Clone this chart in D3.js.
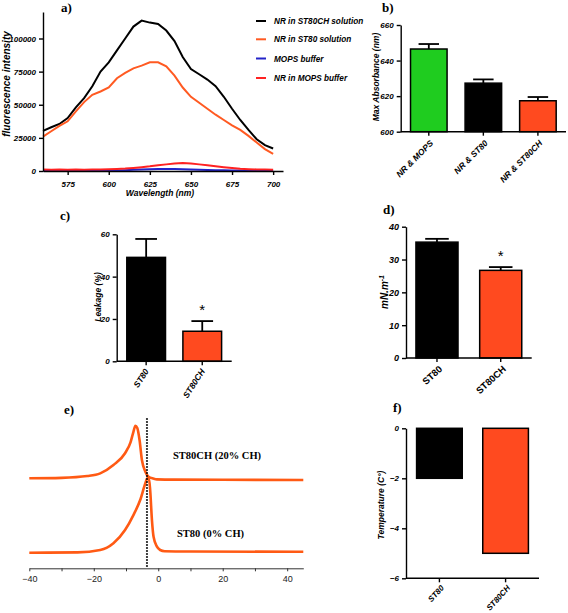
<!DOCTYPE html>
<html><head><meta charset="utf-8">
<script src="https://cdn.jsdelivr.net/npm/d3@7"></script>
<style>
body{margin:0;background:#fff;}
svg{display:block;}
.ax path,.ax line{stroke:#000;stroke-width:1.4;}
.ax text{font-family:"Liberation Sans",Arial,sans-serif;font-weight:bold;font-style:italic;fill:#000;}
.lbl{font-family:"Liberation Serif","Times New Roman",serif;font-weight:bold;font-size:13px;}
.ttl{font-family:"Liberation Sans",Arial,sans-serif;font-weight:bold;font-style:italic;fill:#000;}
</style></head><body>
<svg id="c" width="568" height="613"></svg>
<script>
// ---------- DATA ----------
const specWl = [560,565,570,575,580,585,590,595,600,605,610,615,620,625,630,635,640,645,650,655,660,665,670,675,680,685,690,695,700];
const nrST80CH = [30300,33000,35500,40000,48000,55000,64000,75000,82000,91000,100000,109000,113500,112000,111000,106000,98000,86000,77000,73000,69000,64000,56000,47000,38500,31000,24000,19500,17000];
const nrST80 = [26000,30000,34000,37500,45000,52000,57500,60000,63000,70000,74000,77500,79500,82000,82000,79000,72000,63000,56000,51500,47000,42500,38500,34500,31000,26500,21500,16500,13000];
const mopsBuffer = [200,200,200,200,200,200,200,250,300,400,600,900,1200,1400,1600,1600,1500,1400,1200,1000,800,600,500,400,300,250,200,200,200];
const nrMOPS = [1200,1000,1100,1000,1100,1000,1100,1200,1300,1500,1800,2300,2900,3500,4300,5000,5700,6000,5600,5000,4300,3500,2800,2200,1700,1400,1200,1100,1000];
const specNames = ["NR in ST80CH solution","NR in ST80 solution","MOPS buffer","NR in MOPS buffer"];
const specColors = ["#000000","#ff5a22","#2323c8","#ff2222"];
const specTicksX = [575,600,625,650,675,700];
const specTicksY = [0,25000,50000,75000,100000];

const absCats = ["NR & MOPS","NR & ST80","NR & ST80CH"];
const absVals = [646.5,627.3,617.4];
const absErr = [2.8,2.1,2.1];
const absTicks = [600,620,640,660];

const leakCats = ["ST80","ST80CH"];
const leakVals = [49.1,14.2];
const leakErr = [8.7,4.8];
const leakTicks = [0,20,40,60];

const tensCats = ["ST80","ST80CH"];
const tensVals = [35.3,26.7];
const tensErr = [1.0,1.0];
const tensTicks = [0,10,20,30,40];

const tempCats = ["ST80","ST80CH"];
const tempVals = [-2,-5];
const tempTicks = [0,-2,-4,-6];

const dscX80CH = [-40,-30,-22,-18,-13.9,-10.3,-8.6,-7.7,-7.1,-6.5,-5.8,-5.05,-4,-3,-1.5,-0.4,5,45];
const dscY80CH = [60,60.3,61.5,63.3,68.9,76.7,84,91,95,93.5,85.5,72,64.4,61,59.8,59.3,59.1,58.9];
const dscX80 = [-40,-25,-18,-13.9,-10.3,-7.7,-5.6,-4.0,-3.4,-2.9,-2.5,-1.95,-1.45,-0.4,0.6,2,10,45];
const dscY80 = [10.4,10.6,12.2,16.7,25.5,35.5,45.5,56.7,60,60,52,32,21,14.4,12.2,11.4,11.2,11];
const dscTicksMajor = [-40,-20,0,20,40];
const dscTicksMinor = [-30,-10,10,30];
const dscMarker = -3.5;
const dscLabels = ["ST80CH (20% CH)","ST80 (0% CH)"];

// ---------- DRAW ----------
const svg = d3.select("#c");
const BLACK="#000", ORANGE="#ff4a1f", GREEN="#1fcc1f";

function styleAxis(g){ g.attr("class","ax"); return g; }

// ===== Panel a =====
{
  const x = d3.scaleLinear().domain([560,706]).range([43,283]);
  const y = d3.scaleLinear().domain([0,120000]).range([171,12]);
  const g = svg.append("g");
  const line = d3.line().x((d,i)=>x(specWl[i])).y(d=>y(d));
  [nrST80CH,nrST80,mopsBuffer,nrMOPS].forEach((s,k)=>{
    g.append("path").attr("d",line(s)).attr("fill","none").attr("stroke",specColors[k]).attr("stroke-width",2);
  });
  g.append("g").call(styleAxis).attr("transform","translate(0,171)")
    .call(d3.axisBottom(x).tickValues(specTicksX).tickSize(4).tickSizeOuter(0).tickFormat(d3.format("d")))
    .selectAll("text").style("font-size","8px").attr("dy","1.1em");
  g.append("g").call(styleAxis).attr("transform","translate(43,0)")
    .call(d3.axisLeft(y).tickValues(specTicksY).tickSize(4).tickSizeOuter(0).tickFormat(d3.format("d")))
    .selectAll("text").style("font-size","8px");
  g.append("text").attr("class","ttl").style("font-size","10px").attr("text-anchor","middle")
    .attr("transform","translate(10,84) rotate(-90)").text("fluorescence intensity");
  g.append("text").attr("class","ttl").style("font-size","8.5px").attr("text-anchor","middle")
    .attr("x",160).attr("y",196).text("Wavelength (nm)");
  g.append("text").attr("class","lbl").attr("x",61).attr("y",12).text("a)");
  const lg = g.append("g");
  specNames.forEach((n,k)=>{
    const yy = [21,39.3,58.5,78][k];
    lg.append("line").attr("x1",256).attr("x2",266).attr("y1",yy).attr("y2",yy).attr("stroke",specColors[k]).attr("stroke-width",2);
    lg.append("text").attr("class","ttl").style("font-size","8.2px").attr("x",274).attr("y",yy+3).text(n);
  });
}

// ===== bar helper =====
function barPanel(o){
  const g = svg.append("g");
  const x = d3.scaleBand().domain(o.cats).range([o.x0,o.x1]).paddingInner(o.pi).paddingOuter(o.po);
  const y = d3.scaleLinear().domain(o.ydom).range([o.y0,o.y1]);
  const base = o.base!==undefined ? o.base : o.ydom[0];
  g.selectAll("rect.bar").data(o.vals).enter().append("rect")
    .attr("x",(d,i)=>x(o.cats[i])).attr("width",x.bandwidth())
    .attr("y",d=>Math.min(y(d),y(base))).attr("height",d=>Math.abs(y(base)-y(d)))
    .attr("fill",(d,i)=>o.colors[i]).attr("stroke","#000").attr("stroke-width",1.5);
  if(o.err){
    o.vals.forEach((v,i)=>{
      const cx = x(o.cats[i])+x.bandwidth()/2;
      const cw = x.bandwidth()*0.28;
      g.append("line").attr("x1",cx).attr("x2",cx).attr("y1",y(v)).attr("y2",y(v+o.err[i])).attr("stroke","#000").attr("stroke-width",1.8);
      g.append("line").attr("x1",cx-cw).attr("x2",cx+cw).attr("y1",y(v+o.err[i])).attr("y2",y(v+o.err[i])).attr("stroke","#000").attr("stroke-width",1.8);
    });
  }
  const xa = g.append("g").call(styleAxis).attr("transform",`translate(0,${o.xAxisY})`)
    .call(d3.axisBottom(x).tickSize(4).tickSizeOuter(0));
  xa.select(".domain").attr("d",`M${o.x0},0H${o.x1}`);
  xa.selectAll("text").attr("text-anchor","end").style("font-size",o.xfs||"9px")
    .style("font-style",o.xItalic===false?"normal":"italic")
    .attr("transform",`translate(${o.lox},${o.loy}) rotate(${o.rot})`).attr("dy","0").attr("y",0).attr("x",0);
  const ya = g.append("g").call(styleAxis).attr("transform",`translate(${o.x0},0)`)
    .call(d3.axisLeft(y).tickValues(o.ticks).tickSize(4).tickSizeOuter(0).tickFormat(d3.format("d")));
  ya.selectAll("text").style("font-size",o.yfs||"8px");
  if(o.zeroLine){
    g.append("line").attr("x1",o.x0).attr("x2",o.x1).attr("y1",y(0)).attr("y2",y(0)).attr("stroke","#000").attr("stroke-width",1.4);
  }
  const t = g.append("text").attr("class","ttl").style("font-size",o.tfs).attr("text-anchor","middle")
    .attr("transform",`translate(${o.tx},${o.ty}) rotate(-90)`);
  if(o.titleParts){ o.titleParts(t); } else t.text(o.title);
  g.append("text").attr("class","lbl").attr("x",o.lx).attr("y",o.ly).text(o.label);
  if(o.star){
    o.star.forEach(i=>{
      const cx = x(o.cats[i])+x.bandwidth()/2;
      g.append("text").attr("x",cx).attr("y",y(o.vals[i]+o.err[i])-6).attr("text-anchor","middle")
        .attr("font-family","Liberation Sans,Arial,sans-serif").style("font-size","15px").text("*");
    });
  }
  return {g,x,y};
}

// ===== Panel b =====
barPanel({cats:absCats,vals:absVals,err:absErr,colors:[GREEN,BLACK,ORANGE],
  x0:400.7,x1:566,pi:0.33,po:0.18,ydom:[600,660],y0:131.7,y1:25,ticks:absTicks,xAxisY:131.7,rot:-45,lox:5,loy:12,
  xfs:"8.5px",tfs:"8.5px",tx:379,ty:77,title:"Max Absorbance (nm)",lx:382,ly:12,label:"b)"});

// ===== Panel c =====
barPanel({cats:leakCats,vals:leakVals,err:leakErr,colors:[BLACK,ORANGE],
  x0:116.7,x1:231.7,pi:0.31,po:0.18,ydom:[0,60],y0:361.3,y1:234.3,ticks:leakTicks,xAxisY:361.3,rot:-57,lox:3,loy:10,
  xfs:"8.5px",tfs:"8.5px",tx:101,ty:297,title:"Leakage (%)",lx:60,ly:220,label:"c)",star:[1]});

// ===== Panel d =====
barPanel({cats:tensCats,vals:tensVals,err:tensErr,colors:[BLACK,ORANGE],
  x0:406,x1:531.7,pi:0.34,po:0.156,ydom:[0,40],y0:358,y1:226.7,ticks:tensTicks,xAxisY:358,rot:-42,xItalic:false,lox:6,loy:12,
  xfs:"9.5px",yfs:"9px",tfs:"10px",tx:388,ty:292,lx:383,ly:214,label:"d)",star:[1],
  titleParts:t=>{t.append("tspan").text("mN.m");t.append("tspan").attr("dy","-4").style("font-size","7px").text("-1");}});

// ===== Panel f =====
barPanel({cats:tempCats,vals:tempVals,colors:[BLACK,ORANGE],base:0,
  x0:406,x1:539,pi:0.31,po:0.16,ydom:[-6,0],y0:578.3,y1:428.3,ticks:tempTicks,xAxisY:578.3,rot:-48,lox:5,loy:10,xfs:"8px",
  tfs:"8.5px",tx:384,ty:505,title:"Temperature (C°)",lx:393,ly:412,label:"f)"});

// ===== Panel e =====
{
  const x = d3.scaleLinear().domain([-40,45]).range([29.3,303.3]);
  const y = d3.scaleLinear().domain([0,100]).range([568.3,418.3]);
  const g = svg.append("g");
  const mk = (xs,ys)=>d3.line().curve(d3.curveMonotoneX).x((d,i)=>x(xs[i])).y(d=>y(d))(ys);
  g.append("path").attr("d",mk(dscX80CH,dscY80CH)).attr("fill","none").attr("stroke","#ff5a14").attr("stroke-width",2.6);
  g.append("path").attr("d",mk(dscX80,dscY80)).attr("fill","none").attr("stroke","#ff5a14").attr("stroke-width",2.6);
  g.append("line").attr("x1",x(dscMarker)).attr("x2",x(dscMarker)).attr("y1",y(100)).attr("y2",y(0))
    .attr("stroke","#000").attr("stroke-width",2).attr("stroke-dasharray","1.5,1.5");
  const xa = g.append("g").attr("transform","translate(0,568.3)")
    .call(d3.axisBottom(x).tickValues(dscTicksMajor.concat(dscTicksMinor)).tickSize(3).tickSizeOuter(0)
      .tickFormat(d=>dscTicksMajor.includes(d)?d3.format("d")(d):""));
  xa.selectAll("path,line").attr("stroke","#333").attr("stroke-width",1);
  xa.selectAll("text").attr("font-family","Liberation Sans,Arial,sans-serif").attr("font-size","9px").attr("fill","#222").attr("dy","0.9em");
  g.append("text").attr("class","lbl").style("font-size","10.5px").attr("x",173).attr("y",459).text(dscLabels[0]);
  g.append("text").attr("class","lbl").style("font-size","10.5px").attr("x",177).attr("y",537).text(dscLabels[1]);
  g.append("text").attr("class","lbl").attr("x",64).attr("y",414).text("e)");
}
</script>
</body></html>
